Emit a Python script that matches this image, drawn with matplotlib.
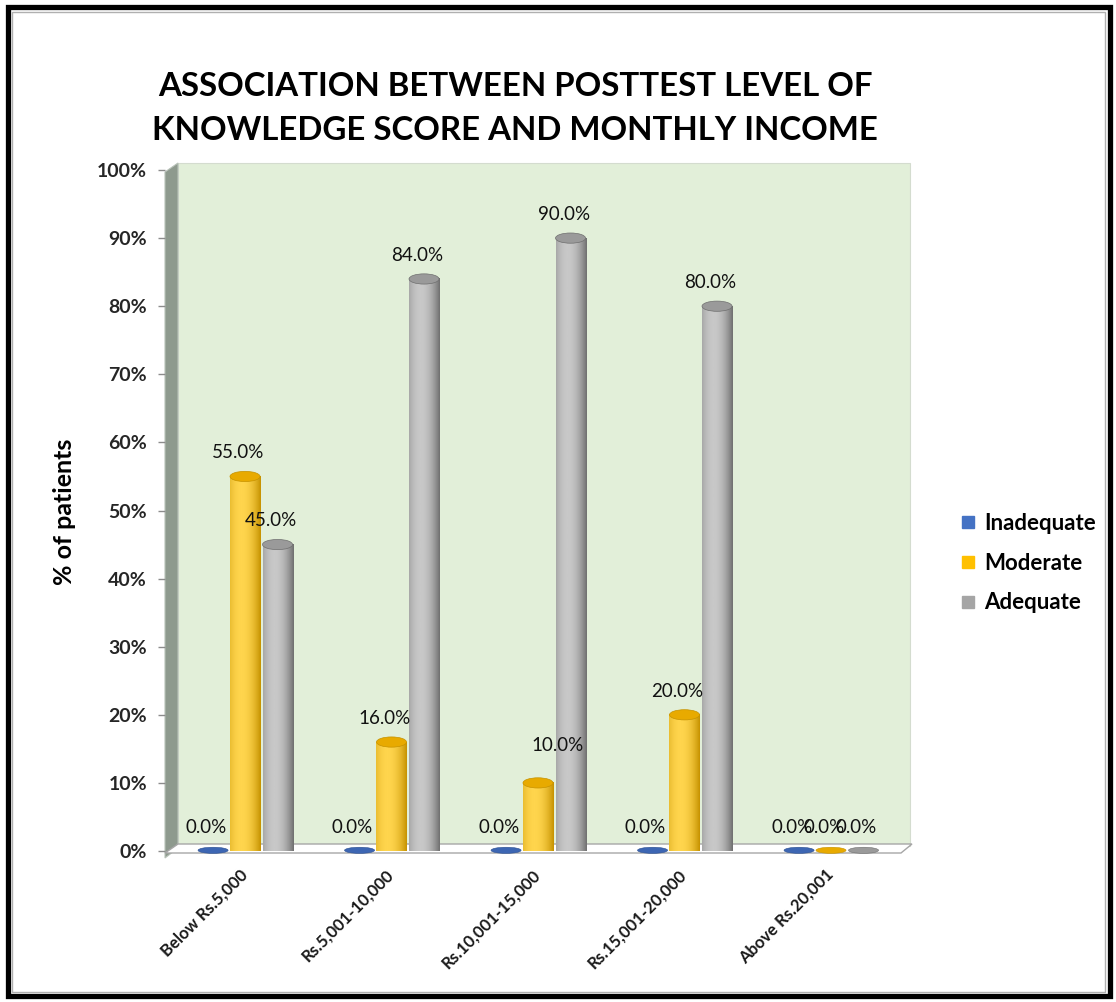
import numpy as np
import matplotlib
matplotlib.use('Agg')
import matplotlib.pyplot as plt
import matplotlib.transforms as mtrans
from matplotlib.patches import Ellipse, Polygon, Rectangle
from matplotlib.colors import LinearSegmentedColormap
from matplotlib.lines import Line2D

plt.rcParams['font.family'] = ['Lato', 'DejaVu Sans']

# data
categories = ['Below Rs.5,000', 'Rs.5,001-10,000', 'Rs.10,001-15,000',
              'Rs.15,001-20,000', 'Above Rs.20,001']
series_names = ['Inadequate', 'Moderate', 'Adequate']
inadequate = [0.0, 0.0, 0.0, 0.0, 0.0]
moderate = [55.0, 16.0, 10.0, 20.0, 0.0]
adequate = [45.0, 84.0, 90.0, 80.0, 0.0]
y_ticks = [0, 10, 20, 30, 40, 50, 60, 70, 80, 90, 100]

# (edge, centre, top) shades for each cylinder colour
shades = [('#2c4f8f', '#6a96de', '#3d66b3'),
          ('#c69200', '#ffd54d', '#e8aa00'),
          ('#6f6f6f', '#c8c8c8', '#9a9a9a')]
legend_colors = ['#4472c4', '#ffc000', '#a5a5a5']

W, H = 1116, 1002
fig = plt.figure(figsize=(W / 100, H / 100), dpi=100)

def px_box(l, t, r, b):
    return [l / W, 1 - b / H, (r - l) / W, (b - t) / H]

ax = fig.add_axes(px_box(165, 160, 915, 858))
ax.set_facecolor('none')
for s in ax.spines.values():
    s.set_visible(False)

xppu = 146.5   # pixels per category
yppu = 6.81    # pixels per percent
x0_px, y0_px = 245, 851
def dx(p):
    return (p - x0_px) / xppu
def dy(p):
    return (y0_px - p) / yppu

ax.set_xlim(dx(165), dx(915))
ax.set_ylim(dy(858), dy(160))

# back wall, side wall and floor
ax.add_patch(Rectangle((dx(178), dy(846)), dx(910) - dx(178), dy(163) - dy(846),
                       fc='#e2efd9', ec='#d4dccf', lw=0.8, zorder=0))
ax.add_patch(Polygon([(dx(165), dy(858)), (dx(165), dy(172)),
                      (dx(178), dy(163)), (dx(178), dy(848))],
                     closed=True, fc='#8e9a8e', ec='#b8c2b8', lw=0.8, zorder=1,
                     clip_on=False))
ax.add_patch(Polygon([(dx(165), dy(853)), (dx(178), dy(844)),
                      (dx(912), dy(844)), (dx(901), dy(853))],
                     closed=True, fc='white', ec='#a6a6a6', lw=1.0, zorder=1,
                     clip_on=False))

bw = 0.205
offsets = [-0.218, 0.0, 0.222]
t = np.linspace(-1, 1, 80)
profile = np.clip(1 - ((t + 0.25) / 1.25) ** 2, 0, 1)
cap_h = 1.5

label_dx = {}
label_dy = {}
label_dx[(1, 2)] = 14
label_dy[(1, 2)] = 27

for si, vals in enumerate([inadequate, moderate, adequate]):
    edge, centre, top = shades[si]
    cmap = LinearSegmentedColormap.from_list('cyl%d' % si, [edge, centre])
    for ci, v in enumerate(vals):
        xc = ci + offsets[si]
        if v > 0:
            ax.imshow(profile[None, :], cmap=cmap, vmin=0, vmax=1,
                      extent=[xc - bw / 2, xc + bw / 2, 0, v],
                      aspect='auto', zorder=2, interpolation='bilinear')
            ax.add_patch(Ellipse((xc, v), bw, cap_h, fc=top, ec=edge, lw=0.5, zorder=3))
        else:
            ax.add_patch(Ellipse((xc, 0.1), bw, 0.9, fc=top, ec=edge, lw=0.4, zorder=3))
        ox = label_dx.get((si, ci), -5)
        oy = label_dy.get((si, ci), 17)
        ax.annotate('%.1f%%' % v, (xc, v), xytext=(ox, oy), textcoords='offset points',
                    ha='center', va='center', fontsize=13.5, color='#111111', zorder=5)

ax.set_xlim(dx(165), dx(915))
ax.set_ylim(dy(858), dy(160))

ax.set_yticks(y_ticks)
ax.set_yticklabels(['%d%%' % v for v in y_ticks], fontsize=14, fontweight='bold',
                   color='#262626')
ax.tick_params(axis='y', length=5, width=1, color='#8c8c8c', pad=8)
ax.set_xticks(range(len(categories)))
ax.set_xticklabels(categories, rotation=45, ha='right', rotation_mode='anchor',
                   fontsize=12, fontweight='bold', color='#1a1a1a')
ax.tick_params(axis='x', length=0, pad=6)
shift = mtrans.ScaledTranslation(-6 / 100, 0, fig.dpi_scale_trans)
for lbl in ax.get_xticklabels():
    lbl.set_transform(lbl.get_transform() + shift)

fig.text(65 / W, 1 - 512 / H, '% of patients', rotation=90, ha='center', va='center',
         fontsize=18, fontweight='bold')
fig.text(515 / W, 1 - 86 / H, 'ASSOCIATION BETWEEN POSTTEST LEVEL OF', ha='center',
         va='center', fontsize=23.8, fontweight='bold')
fig.text(515 / W, 1 - 131 / H, 'KNOWLEDGE SCORE AND MONTHLY INCOME', ha='center',
         va='center', fontsize=23.8, fontweight='bold')

handles = [Line2D([], [], ls='none', marker='s', markersize=8, color=c) for c in legend_colors]
fig.legend(handles, series_names, loc='center left', bbox_to_anchor=(940 / W, 1 - 563 / H),
           frameon=False, prop={'size': 16, 'weight': 'bold'}, labelspacing=0.85,
           handlelength=0.7, handletextpad=0.4)

# outer frame
fig.add_artist(Rectangle((7.5 / W, 6 / H), 1102 / W, 989 / H, transform=fig.transFigure,
                         fill=False, ec='black', lw=3.8))
fig.add_artist(Rectangle((12 / W, 10.5 / H), 1093 / W, 980 / H, transform=fig.transFigure,
                         fill=False, ec='#b0b0b0', lw=1.0))

fig.savefig('out.png', dpi=100)
